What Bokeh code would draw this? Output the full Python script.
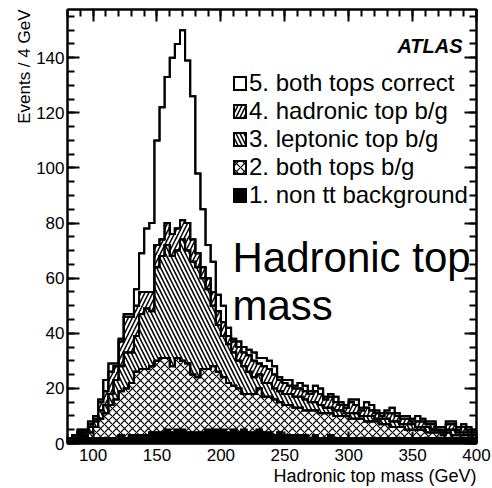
import numpy as np
from bokeh.plotting import figure
from bokeh.models import (Range1d, LinearAxis, SingleIntervalTicker, Label, Legend,
                          LegendItem, CustomJSTickFormatter, Title)
from bokeh.embed import file_html
from bokeh.resources import INLINE

# ---------------- data (80 bins of 4 GeV, 80-400 GeV) ----------------
bin_low = 80
bin_width = 4
n_bins = 80

non_tt = [1, 2, 4, 3, 2, 2, 2, 2, 2, 2, 3, 2, 3, 3, 3, 3, 4, 4, 4, 5,
          4, 5, 5, 4, 4, 4, 4, 5, 5, 5, 5, 4, 5, 4, 5, 4, 4, 5, 4, 4,
          3, 4, 3, 3, 3, 3, 3, 2, 3, 2, 2, 3, 2, 2, 2, 2, 2, 2, 2, 2,
          2, 2, 2, 2, 2, 2, 2, 2, 2, 2, 2, 2, 2, 2, 2, 2, 2, 2, 2, 2]
both_bg = [0, 1, 0, 1, 2, 4, 7, 9, 12, 14, 16, 18, 19, 23, 24, 24, 24, 26, 27, 26,
           24, 26, 25, 25, 21, 20, 23, 22, 23, 21, 19, 18, 16, 16, 13, 14, 14, 15, 13, 13,
           13, 11, 11, 11, 10, 10, 9, 10, 9, 9, 9, 8, 8, 8, 8, 7, 7, 7, 6, 6,
           6, 5, 5, 4, 4, 4, 3, 3, 3, 3, 2, 2, 2, 1, 2, 1, 1, 1, 1, 0]
lep_bg = [1, 0, 0, 0, 2, 2, 3, 3, 4, 7, 9, 13, 11, 13, 20, 22, 20, 34, 37, 41,
          40, 39, 44, 41, 41, 40, 33, 29, 22, 17, 15, 14, 12, 10, 10, 8, 6, 5, 5, 5,
          4, 4, 4, 4, 4, 4, 4, 3, 3, 3, 2, 2, 2, 2, 1, 2, 2, 1, 2, 2,
          1, 2, 2, 2, 2, 1, 2, 2, 1, 1, 2, 1, 1, 1, 1, 2, 1, 1, 1, 1]
had_bg = [0, 0, 1, 1, 1, 1, 3, 5, 8, 5, 9, 13, 13, 11, 8, 6, 7, 8, 6, 8,
          8, 8, 7, 10, 8, 5, 4, 4, 5, 5, 5, 3, 4, 5, 5, 6, 6, 4, 6, 5,
          5, 4, 4, 3, 3, 3, 3, 3, 4, 4, 3, 4, 3, 2, 2, 4, 3, 2, 3, 2,
          2, 1, 2, 3, 2, 2, 2, 1, 2, 2, 1, 2, 0, 1, 2, 2, 1, 2, 1, 1]
correct = [0, 0, 0, 0, 1, 1, 1, 4, 3, 1, 1, 1, 1, 6, 14, 23, 25, 38, 48, 53,
           64, 67, 69, 59, 52, 29, 21, 12, 11, 6, 6, 3, 1, 2, 2, 2, 3, 2, 3, 3,
           3, 1, 1, 2, 1, 2, 2, 1, 2, 2, 1, 1, 2, 1, 1, 1, 2, 1, 2, 2,
           1, 1, 1, 2, 1, 1, 1, 1, 2, 1, 1, 1, 1, 1, 1, 1, 1, 1, 1, 1]

labels = ["1. non tt background", "2. both tops b/g", "3. leptonic top b/g",
          "4. hadronic top b/g", "5. both tops correct"]
x_title = "Hadronic top mass (GeV)"
y_title = "Events / 4 GeV"
x_ticks_interval = 50
y_ticks_interval = 20

# ---------------- styles ----------------
FONT = "Liberation Sans"
styles = [
    dict(fill_color="black"),
    dict(fill_color="white", hatch_pattern="x", hatch_color="black", hatch_scale=8, hatch_weight=1.2),
    dict(fill_color="white", hatch_pattern="\\", hatch_color="black", hatch_scale=8, hatch_weight=1.5),
    dict(fill_color="white", hatch_pattern="/", hatch_color="black", hatch_scale=8, hatch_weight=1.5),
    dict(fill_color="white"),
]

edges = bin_low + bin_width * np.arange(n_bins + 1)
comps = [np.array(c, float) for c in (non_tt, both_bg, lep_bg, had_bg, correct)]
cum = np.cumsum(np.vstack(comps), axis=0)

def step_xy(h):
    xs = np.repeat(edges, 2)[1:-1]
    ys = np.repeat(h, 2)
    return xs, ys

p = figure(width=492, height=488, x_range=Range1d(80, 400), y_range=Range1d(0, 157.5),
           output_backend="svg", toolbar_location=None,
           min_border_left=67, min_border_right=16, min_border_top=9, min_border_bottom=45)
p.xgrid.visible = False
p.ygrid.visible = False
p.outline_line_color = "black"
p.outline_line_width = 2
p.background_fill_color = "white"
p.border_fill_color = "white"

# filled, outlined stacked components
renderers = [None] * 5
lower_levels = [np.zeros(n_bins)] + [cum[k] for k in range(4)]
for k in range(4, -1, -1):
    ux, uy = step_xy(cum[k])
    lx, ly = step_xy(lower_levels[k])
    xs = np.concatenate([ux, lx[::-1]])
    ys = np.concatenate([uy, ly[::-1]])
    renderers[k] = p.patch(xs, ys, line_color="black", line_width=2, line_join="miter",
                           **styles[k])

# outlines of each stacked level on top
for k in range(5):
    sx, sy = step_xy(cum[k])
    p.line(sx, sy, line_color="black", line_width=2, line_join="miter")

legend_items = [LegendItem(label=labels[k], renderers=[renderers[k]]) for k in range(4, -1, -1)]
legend = Legend(items=legend_items, location=(165, 234), glyph_width=15, glyph_height=16,
                label_standoff=2, spacing=0, padding=0, margin=0,
                border_line_alpha=0, background_fill_alpha=0,
                label_text_font=FONT, label_text_font_size="24px", label_text_color="black")
p.add_layout(legend)

# axes
def style_axis(ax):
    ax.axis_line_width = 2
    ax.axis_line_color = "black"
    ax.major_tick_in = 12
    ax.major_tick_out = 0
    ax.minor_tick_in = 7
    ax.minor_tick_out = 0
    ax.major_tick_line_width = 2
    ax.minor_tick_line_width = 2
    ax.major_tick_line_color = "black"
    ax.minor_tick_line_color = "black"
    ax.major_label_text_font = FONT
    ax.major_label_text_font_size = "17px"
    ax.major_label_text_color = "black"

xa = p.xaxis[0]
xa.ticker = SingleIntervalTicker(interval=x_ticks_interval, num_minor_ticks=5)
style_axis(xa)
xa.major_label_standoff = 5

ya = p.yaxis[0]
ya.ticker = SingleIntervalTicker(interval=y_ticks_interval, num_minor_ticks=4)
style_axis(ya)
ya.major_label_standoff = 3

top_ax = LinearAxis(ticker=SingleIntervalTicker(interval=x_ticks_interval, num_minor_ticks=5),
                    formatter=CustomJSTickFormatter(code="return ''"))
style_axis(top_ax)
top_ax.major_label_text_font_size = "0px"
top_ax.major_label_standoff = 0
p.add_layout(top_ax, "above")
right_ax = LinearAxis(ticker=SingleIntervalTicker(interval=y_ticks_interval, num_minor_ticks=4),
                      formatter=CustomJSTickFormatter(code="return ''"))
style_axis(right_ax)
right_ax.major_label_text_font_size = "0px"
right_ax.major_label_standoff = 0
p.add_layout(right_ax, "right")

# axis titles (right / top aligned, ROOT style)
p.add_layout(Title(text=x_title, align="right", standoff=0, offset=0,
                   text_font=FONT, text_font_size="18px", text_font_style="normal",
                   text_color="black"), "below")
p.add_layout(Title(text=y_title, align="right", standoff=0, offset=0,
                   text_font=FONT, text_font_size="17px", text_font_style="normal",
                   text_color="black"), "left")

# texts inside the frame
p.add_layout(Label(x=389.1, y=144.3, text="ATLAS", text_align="right", text_baseline="alphabetic",
                   text_font=FONT, text_font_size="20px", text_font_style="bold italic",
                   text_color="black"))
p.add_layout(Label(x=209.1, y=67.4, text="Hadronic top", text_align="left",
                   text_baseline="alphabetic", text_font=FONT, text_font_size="42px",
                   text_color="black"))
p.add_layout(Label(x=209.1, y=50.0, text="mass", text_align="left",
                   text_baseline="alphabetic", text_font=FONT, text_font_size="42px",
                   text_color="black"))

open("out.html", "w").write(file_html(p, INLINE))
